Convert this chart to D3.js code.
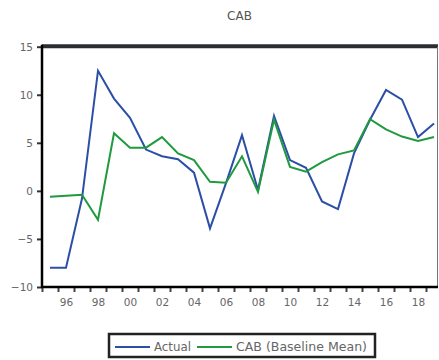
<!DOCTYPE html>
<html>
<head>
<meta charset="utf-8">
<script src="https://cdn.jsdelivr.net/npm/d3@7"></script>
<style>
  html, body { margin: 0; padding: 0; background: #fff; }
  svg { display: block; }
  text { font-family: "DejaVu Sans", Arial, sans-serif; }
</style>
</head>
<body>
<script>
// ---- data ----
const years = d3.range(1995, 2020);
const actual = [-8, -8, -0.8, 12.5, 9.6, 7.6, 4.3, 3.6, 3.3, 1.9, -3.9, 0.8, 5.8, 0.1, 7.8, 3.2, 2.4, -1.1, -1.9, 3.9, 7.4, 10.5, 9.5, 5.6, 7.0];
const baseline = [-0.6, -0.5, -0.4, -3.0, 6.0, 4.5, 4.5, 5.6, 3.9, 3.2, 0.95, 0.85, 3.6, -0.1, 7.4, 2.5, 2.0, 3.0, 3.8, 4.2, 7.45, 6.4, 5.65, 5.2, 5.6];
const yTicks = [-10, -5, 0, 5, 10, 15];
const xLabelYears = [1996, 1998, 2000, 2002, 2004, 2006, 2008, 2010, 2012, 2014, 2016, 2018];
const seriesNames = ["Actual", "CAB (Baseline Mean)"];
const seriesColors = ["#2c4fa6", "#1f9a3e"];
const title = "CAB";

// ---- layout ----
(function () {
const W = 439, H = 360;
const pL = 42, pR = 437, pT = 46.7, pB = 287;

const svg = d3.select("body").append("svg").attr("width", W).attr("height", H);

const x = d3.scaleLinear().domain([1995, 2019]).range([50, 434]);
const y = d3.scaleLinear().domain([-10, 15]).range([pB, pT]);

// title
svg.append("text").attr("x", (pL + pR) / 2).attr("y", 20)
  .attr("text-anchor", "middle").attr("font-size", 12).attr("fill", "#555").text(title);

// frame: top thick, right thin
svg.append("line").attr("x1", pL).attr("x2", pR + 1).attr("y1", pT - 0.5).attr("y2", pT - 0.5)
  .attr("stroke", "#2b2e30").attr("stroke-width", 4);
svg.append("line").attr("x1", pR + 0.5).attr("x2", pR + 0.5).attr("y1", pT).attr("y2", pB)
  .attr("stroke", "#777").attr("stroke-width", 1);

// y axis
const yAxis = d3.axisLeft(y).tickValues(yTicks).tickSize(5).tickPadding(4).tickFormat(d3.format("d"));
const gy = svg.append("g").attr("transform", `translate(${pL},0)`).call(yAxis);
gy.select(".domain").remove();
gy.selectAll(".tick line").attr("stroke", "#333").attr("stroke-width", 2);
gy.selectAll(".tick text").attr("font-size", 10.5).attr("fill", "#666");

// x axis: ticks at year boundaries
const xBound = d3.range(1994.5, 2019.6, 1);
const xAxisTicks = d3.axisBottom(x).tickValues(xBound).tickSize(5).tickFormat("");
const gx = svg.append("g").attr("transform", `translate(0,${pB})`).call(xAxisTicks);
gx.select(".domain").remove();
gx.selectAll(".tick line").attr("stroke", "#444").attr("stroke-width", 2);

const xAxisLabels = d3.axisBottom(x).tickValues(xLabelYears).tickSize(0).tickPadding(12)
  .tickFormat(d => String(d % 100).padStart(2, "0"));
const gxl = svg.append("g").attr("transform", `translate(0,${pB})`).call(xAxisLabels);
gxl.select(".domain").remove();
gxl.selectAll(".tick text").attr("font-size", 10.5).attr("fill", "#666");

// axis lines
svg.append("line").attr("x1", pL).attr("x2", pL).attr("y1", pT - 2).attr("y2", pB + 1)
  .attr("stroke", "#000").attr("stroke-width", 2.5);
svg.append("line").attr("x1", pL - 1).attr("x2", pR + 1).attr("y1", pB).attr("y2", pB)
  .attr("stroke", "#000").attr("stroke-width", 2.5);

// lines
const line = d3.line().x((d, i) => x(years[i])).y(d => y(d));
[actual, baseline].forEach((s, k) => {
  svg.append("path").datum(s).attr("d", line).attr("fill", "none")
    .attr("stroke", seriesColors[k]).attr("stroke-width", 2).attr("stroke-linejoin", "miter");
});

// legend
const lg = svg.append("g");
lg.append("rect").attr("x", 109).attr("y", 334).attr("width", 266).attr("height", 23)
  .attr("fill", "#fff").attr("stroke", "#222").attr("stroke-width", 2.5);
const items = [{x0: 115, tx: 154}, {x0: 197, tx: 236}];
items.forEach((it, k) => {
  lg.append("line").attr("x1", it.x0).attr("x2", it.x0 + 35).attr("y1", 347).attr("y2", 347)
    .attr("stroke", seriesColors[k]).attr("stroke-width", 2);
  lg.append("text").attr("x", it.tx).attr("y", 351).attr("font-size", 11.5).attr("fill", "#666")
    .attr("textLength", k === 0 ? 37 : 131).attr("lengthAdjust", "spacingAndGlyphs")
    .text(seriesNames[k]);
});
})();
</script>
</body>
</html>
